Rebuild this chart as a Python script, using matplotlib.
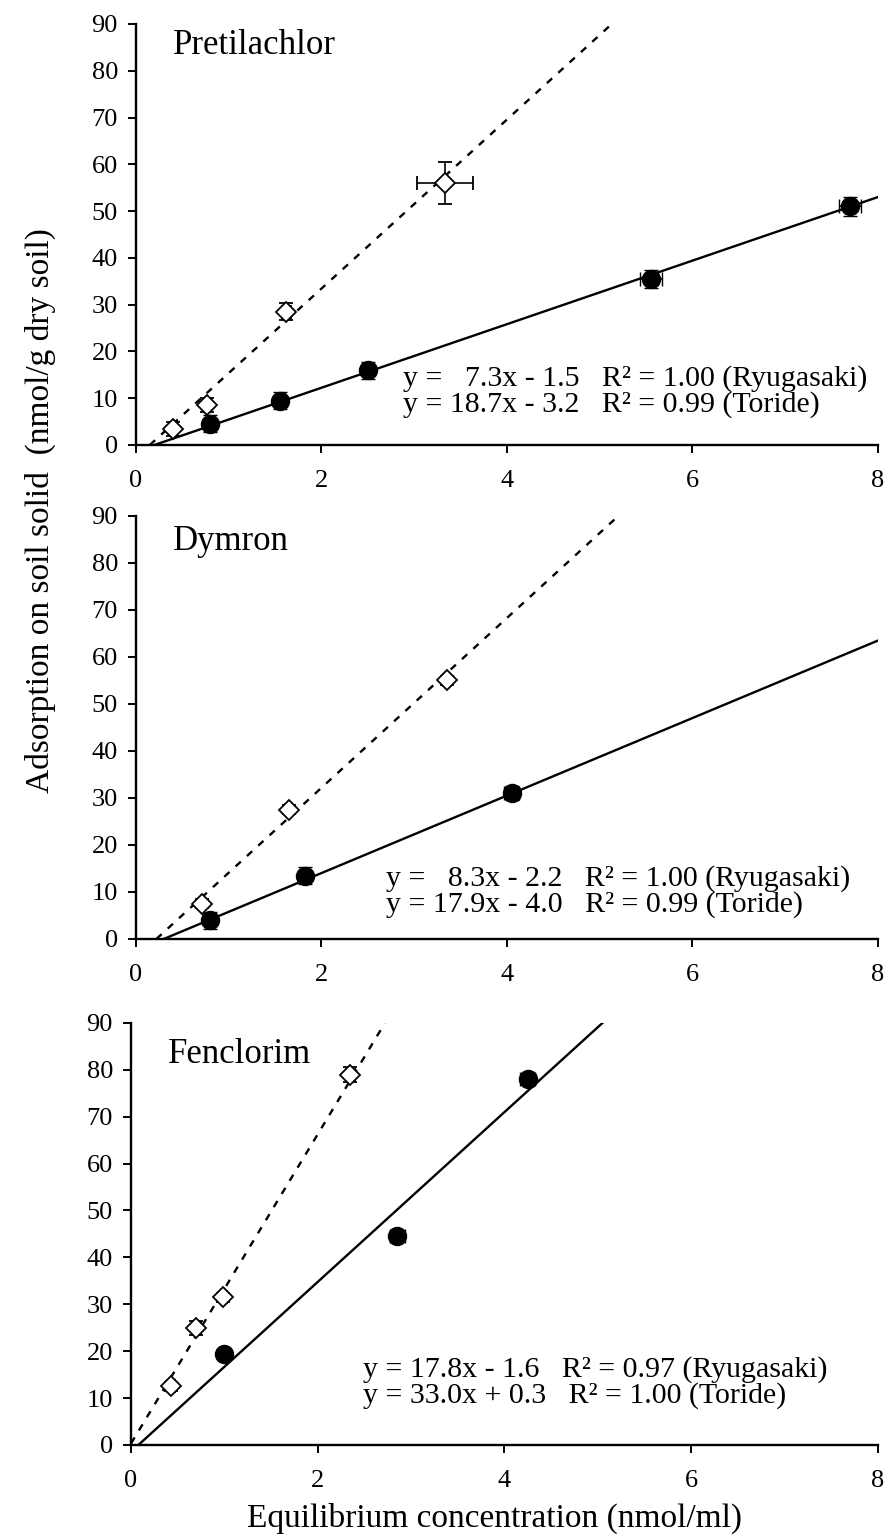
import numpy as np
import matplotlib.pyplot as plt

plt.rcParams['font.family'] = ['Liberation Serif', 'DejaVu Serif']

# Pretilachlor
pre_ryu_x = [0.80, 1.55, 2.50, 5.55, 7.70]
pre_ryu_y = [4.5, 9.5, 16.0, 35.5, 51.0]
pre_ryu_xerr = [0.05, 0.05, 0.06, 0.12, 0.12]
pre_ryu_yerr = [1.8, 1.8, 1.8, 2.0, 2.0]
pre_tor_x = [0.40, 0.77, 1.62, 3.33]
pre_tor_y = [3.5, 8.5, 28.5, 56.0]
pre_tor_xerr = [0.04, 0.04, 0.05, 0.30]
pre_tor_yerr = [1.5, 1.5, 1.8, 4.5]

# Dymron
dym_ryu_x = [0.80, 1.82, 4.05]
dym_ryu_y = [4.0, 13.5, 31.0]
dym_ryu_xerr = [0.05, 0.05, 0.08]
dym_ryu_yerr = [1.8, 1.8, 1.5]
dym_tor_x = [0.71, 1.65, 3.35]
dym_tor_y = [7.5, 27.5, 55.0]
dym_tor_xerr = [0.03, 0.03, 0.04]
dym_tor_yerr = [1.0, 1.0, 1.0]

# Fenclorim
fen_ryu_x = [1.00, 2.85, 4.25]
fen_ryu_y = [19.5, 44.5, 78.0]
fen_ryu_xerr = [0.06, 0.08, 0.08]
fen_ryu_yerr = [0.8, 0.8, 0.8]
fen_tor_x = [0.43, 0.70, 0.99, 2.35]
fen_tor_y = [12.5, 25.0, 31.5, 79.0]
fen_tor_xerr = [0.04, 0.05, 0.04, 0.05]
fen_tor_yerr = [1.0, 1.5, 1.0, 1.5]

# trend lines as drawn (end points)
pre_ryu_line_x = [0.20, 8.00]
pre_ryu_line_y = [0.0, 53.0]
pre_tor_line_x = [0.15, 5.13]
pre_tor_line_y = [0.0, 90.0]
dym_ryu_line_x = [0.30, 8.00]
dym_ryu_line_y = [0.0, 63.5]
dym_tor_line_x = [0.22, 5.20]
dym_tor_line_y = [0.0, 90.0]
fen_ryu_line_x = [0.08, 5.05]
fen_ryu_line_y = [0.0, 90.0]
fen_tor_line_x = [0.00, 2.72]
fen_tor_line_y = [0.3, 90.0]

names = ['Pretilachlor', 'Dymron', 'Fenclorim']
eq_text = [
    'y =   7.3x - 1.5   R\u00b2 = 1.00 (Ryugasaki)\ny = 18.7x - 3.2   R\u00b2 = 0.99 (Toride)',
    'y =   8.3x - 2.2   R\u00b2 = 1.00 (Ryugasaki)\ny = 17.9x - 4.0   R\u00b2 = 0.99 (Toride)',
    'y = 17.8x - 1.6   R\u00b2 = 0.97 (Ryugasaki)\ny = 33.0x + 0.3   R\u00b2 = 1.00 (Toride)',
]

ryu = [(pre_ryu_x, pre_ryu_y, pre_ryu_xerr, pre_ryu_yerr),
       (dym_ryu_x, dym_ryu_y, dym_ryu_xerr, dym_ryu_yerr),
       (fen_ryu_x, fen_ryu_y, fen_ryu_xerr, fen_ryu_yerr)]
tor = [(pre_tor_x, pre_tor_y, pre_tor_xerr, pre_tor_yerr),
       (dym_tor_x, dym_tor_y, dym_tor_xerr, dym_tor_yerr),
       (fen_tor_x, fen_tor_y, fen_tor_xerr, fen_tor_yerr)]
ryu_lines = [(pre_ryu_line_x, pre_ryu_line_y), (dym_ryu_line_x, dym_ryu_line_y),
             (fen_ryu_line_x, fen_ryu_line_y)]
tor_lines = [(pre_tor_line_x, pre_tor_line_y), (dym_tor_line_x, dym_tor_line_y),
             (fen_tor_line_x, fen_tor_line_y)]

fig = plt.figure(figsize=(8.91, 15.38), dpi=100)
boxes = [[0.1526, 0.7107, 0.8328, 0.2737],
         [0.1526, 0.3895, 0.8328, 0.2750],
         [0.1470, 0.0605, 0.8384, 0.2744]]
name_pos = [0.95, 0.94, 0.925]
eq_pos = [(0.36, 0.127), (0.337, 0.112), (0.31, 0.148)]

for i in range(3):
    ax = fig.add_axes(boxes[i])
    ax.plot(*ryu_lines[i], color='black', lw=1.7, zorder=2)
    ax.plot(*tor_lines[i], color='black', lw=1.7, ls=(0, (3, 3.5)), zorder=2)

    x, y, xe, ye = ryu[i]
    ax.errorbar(x, y, xerr=xe, yerr=ye, fmt='o', ms=13, mfc='black', mec='black',
                ecolor='black', elinewidth=1.2, capsize=5, zorder=3)
    x, y, xe, ye = tor[i]
    ax.errorbar(x, y, xerr=xe, yerr=ye, fmt='D', ms=10, mfc='white', mec='black',
                mew=1.3, ecolor='black', elinewidth=1.2, capsize=5, zorder=4)

    ax.set_xlim(0, 8)
    ax.set_ylim(0, 90)
    ax.set_xticks([0, 2, 4, 6, 8])
    ax.set_yticks(np.arange(0, 91, 10))
    ax.spines['top'].set_visible(False)
    ax.spines['right'].set_visible(False)
    ax.spines['left'].set_linewidth(1.7)
    ax.spines['bottom'].set_linewidth(1.7)
    ax.tick_params(axis='both', direction='out', length=6, width=1.4, labelsize=19)
    ax.tick_params(axis='x', pad=12)
    ax.tick_params(axis='y', pad=7)

    ax.text(0.05, name_pos[i], names[i], transform=ax.transAxes, fontsize=25,
            ha='left', va='center')
    ax.text(eq_pos[i][0], eq_pos[i][1], eq_text[i], transform=ax.transAxes,
            fontsize=21.5, ha='left', va='center', linespacing=0.95)

fig.text(0.045, 0.668, 'Adsorption on soil solid  (nmol/g dry soil)', rotation=90,
         fontsize=24, ha='center', va='center')
fig.text(0.555, 0.013, 'Equilibrium concentration (nmol/ml)', fontsize=24,
         ha='center', va='center')

fig.savefig('out.png', dpi=100)
